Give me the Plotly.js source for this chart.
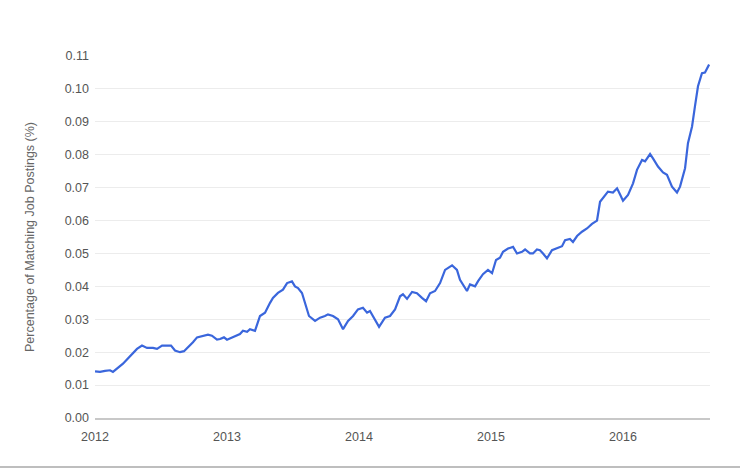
<!DOCTYPE html>
<html>
<head>
<meta charset="utf-8">
<script src="https://cdn.plot.ly/plotly-3.0.1.min.js"></script>
<style>html,body{margin:0;padding:0;background:#fff;}#chart{width:740px;height:468px;}</style>
</head>
<body>
<div id="chart"></div>
<script>
// Time in decimal years
var years = [
  2012.000,2012.038,2012.076,2012.114,2012.136,2012.167,2012.212,2012.235,2012.280,2012.318,
  2012.356,2012.394,2012.439,2012.470,2012.508,2012.545,2012.576,2012.606,2012.644,2012.674,
  2012.705,2012.742,2012.773,2012.811,2012.833,2012.856,2012.886,2012.924,2012.947,2012.977,
  2013.000,2013.038,2013.076,2013.098,2013.121,2013.152,2013.174,2013.212,2013.250,2013.288,
  2013.326,2013.348,2013.386,2013.424,2013.455,2013.492,2013.515,2013.538,2013.568,2013.591,
  2013.621,2013.667,2013.705,2013.742,2013.765,2013.803,2013.841,2013.879,2013.917,2013.955,
  2013.992,2014.030,2014.061,2014.083,2014.121,2014.152,2014.197,2014.235,2014.273,2014.311,
  2014.333,2014.364,2014.402,2014.439,2014.477,2014.508,2014.538,2014.576,2014.614,2014.652,
  2014.705,2014.742,2014.765,2014.788,2014.818,2014.841,2014.879,2014.902,2014.939,2014.977,
  2015.008,2015.038,2015.068,2015.091,2015.129,2015.167,2015.197,2015.235,2015.258,2015.295,
  2015.318,2015.348,2015.371,2015.394,2015.424,2015.462,2015.500,2015.538,2015.561,2015.598,
  2015.621,2015.652,2015.689,2015.727,2015.765,2015.803,2015.826,2015.848,2015.886,2015.924,
  2015.955,2015.977,2016.000,2016.038,2016.076,2016.106,2016.144,2016.167,2016.205,2016.227,
  2016.265,2016.303,2016.333,2016.371,2016.409,2016.432,2016.470,2016.492,2016.523,2016.545,
  2016.568,2016.598,2016.621,2016.652
];
// Percentage of matching job postings (%)
var share = [
  0.0142,0.0140,0.0143,0.0145,0.0140,0.0150,0.0165,0.0175,0.0195,0.0210,
  0.0220,0.0213,0.0213,0.0210,0.0220,0.0220,0.0220,0.0205,0.0200,0.0203,
  0.0215,0.0230,0.0245,0.0248,0.0250,0.0253,0.0250,0.0238,0.0240,0.0245,
  0.0238,0.0245,0.0250,0.0255,0.0265,0.0262,0.0270,0.0265,0.0310,0.0320,
  0.0350,0.0365,0.0380,0.0390,0.0410,0.0415,0.0400,0.0395,0.0380,0.0350,
  0.0310,0.0295,0.0305,0.0310,0.0315,0.0310,0.0300,0.0270,0.0295,0.0310,
  0.0330,0.0335,0.0320,0.0325,0.0300,0.0277,0.0305,0.0310,0.0330,0.0370,
  0.0376,0.0362,0.0383,0.0379,0.0365,0.0355,0.0379,0.0386,0.0410,0.0450,
  0.0464,0.0450,0.0420,0.0406,0.0386,0.0406,0.0400,0.0416,0.0437,0.0450,
  0.0440,0.0480,0.0487,0.0505,0.0515,0.0520,0.0500,0.0505,0.0512,0.0500,
  0.0500,0.0512,0.0510,0.0500,0.0485,0.0510,0.0515,0.0522,0.0540,0.0544,
  0.0535,0.0553,0.0566,0.0576,0.0590,0.0600,0.0657,0.0668,0.0688,0.0685,
  0.0698,0.0680,0.0660,0.0678,0.0713,0.0754,0.0784,0.0780,0.0802,0.0789,
  0.0764,0.0746,0.0739,0.0703,0.0685,0.0703,0.0759,0.0835,0.0886,0.0947,
  0.1008,0.1048,0.1050,0.1074
];
var yearTicks = [2012, 2013, 2014, 2015, 2016];
var yearLabels = ['2012', '2013', '2014', '2015', '2016'];
var yTicks = [0,0.01,0.02,0.03,0.04,0.05,0.06,0.07,0.08,0.09,0.10,0.11];

var trace = {
  x: years, y: share, type: 'scatter', mode: 'lines',
  line: {color: '#3a66dc', width: 2.2},
  hoverinfo: 'x+y'
};
var layout = {
  width: 740, height: 468,
  margin: {l: 95, r: 30, t: 56, b: 50},
  paper_bgcolor: '#fff', plot_bgcolor: '#fff',
  font: {family: '"Liberation Sans", Arial, Helvetica, sans-serif', size: 12.5, color: '#555'},
  showlegend: false,
  xaxis: {
    range: [2012, 2016.659], tickvals: yearTicks, ticktext: yearLabels,
    showgrid: false, zeroline: false, showline: true, linecolor: '#c8c8c8', linewidth: 2,
    ticks: '', ticklabelstandoff: 6, fixedrange: true,
    tickfont: {size: 12.5, color: '#555'}
  },
  yaxis: {
    range: [0, 0.11], tickvals: yTicks, tickformat: '.2f',
    showgrid: true, gridcolor: '#ececec', gridwidth: 1, zeroline: false,
    showline: false, ticks: '', ticklabelstandoff: 5,
    tickfont: {size: 12.5, color: '#555'},
    title: {text: 'Percentage of Matching Job Postings (%)', standoff: 27,
            font: {size: 12.5, color: '#666'}},
    automargin: false
  },
  shapes: [{
    type: 'line', xref: 'paper', yref: 'paper',
    x0: -95/615, x1: 645/615, y0: -49/362, y1: -49/362,
    line: {color: '#a8a8a8', width: 1.5}
  }]
};
Plotly.newPlot('chart', [trace], layout, {displayModeBar: false, staticPlot: true});
</script>
</body>
</html>
